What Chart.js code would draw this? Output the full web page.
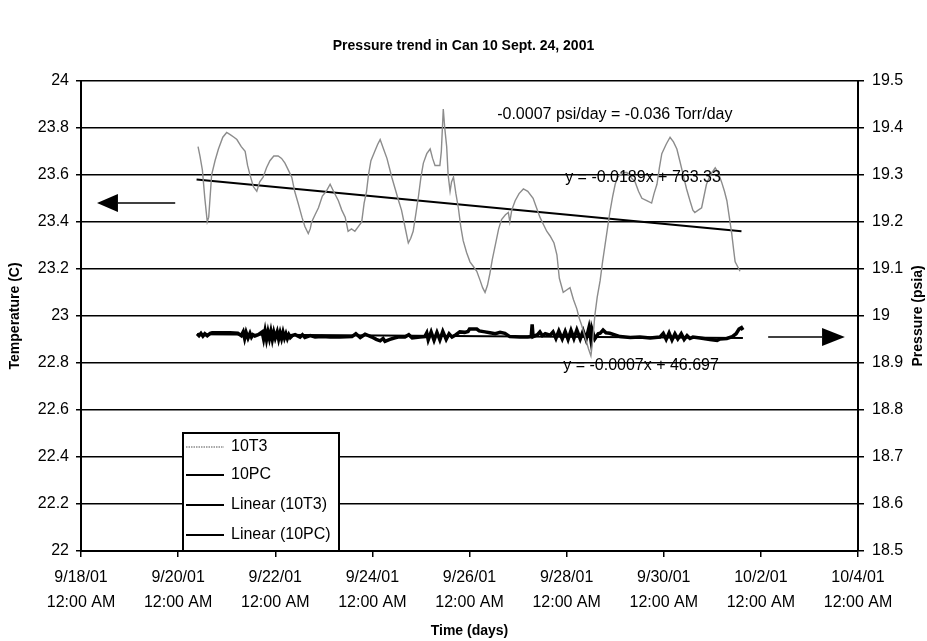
<!DOCTYPE html>
<html>
<head>
<meta charset="utf-8">
<title>Pressure trend in Can 10</title>
<script src="https://cdn.jsdelivr.net/npm/chart.js@4.4.1/dist/chart.umd.min.js"></script>
<style>
  html, body { margin: 0; padding: 0; background: #fff; }
  #wrap { width: 927px; height: 641px; }
</style>
</head>
<body>
<div id="wrap"><canvas id="chart" width="927" height="641"></canvas></div>
<script>
const FONT = '"Liberation Sans", Arial, Helvetica, sans-serif';

const chartTitle = "Pressure trend in Can 10 Sept. 24, 2001";

// x axis: days since 9/18/01 12:00 AM
const xDateLabels = ["9/18/01", "9/20/01", "9/22/01", "9/24/01", "9/26/01", "9/28/01", "9/30/01", "10/2/01", "10/4/01"];
const xTimeLabels = ["12:00 AM", "12:00 AM", "12:00 AM", "12:00 AM", "12:00 AM", "12:00 AM", "12:00 AM", "12:00 AM", "12:00 AM"];
const leftTickLabels = ["22", "22.2", "22.4", "22.6", "22.8", "23", "23.2", "23.4", "23.6", "23.8", "24"];
const rightTickLabels = ["18.5", "18.6", "18.7", "18.8", "18.9", "19", "19.1", "19.2", "19.3", "19.4", "19.5"];

// 10T3 temperature (C)
const tempDays = [2.41, 2.45, 2.50, 2.55, 2.60, 2.63, 2.69, 2.76, 2.83, 2.92, 3.00, 3.08, 3.15, 3.21, 3.30, 3.38, 3.43, 3.48, 3.55, 3.62,
  3.68, 3.75, 3.82, 3.89, 3.97, 4.06, 4.13, 4.20, 4.27, 4.34, 4.40, 4.47, 4.55, 4.61, 4.68, 4.72, 4.75, 4.82, 4.89, 4.97,
  5.05, 5.13, 5.20, 5.30, 5.37, 5.44, 5.50, 5.57, 5.64, 5.71, 5.78, 5.83, 5.88, 5.92, 5.97, 6.05, 6.11, 6.16, 6.23, 6.30,
  6.35, 6.40, 6.47, 6.54, 6.60, 6.64, 6.69, 6.74, 6.79, 6.84, 6.90, 6.95, 7.00, 7.05, 7.12, 7.19, 7.24, 7.29, 7.34, 7.39,
  7.42, 7.46, 7.49, 7.53, 7.56, 7.60, 7.63, 7.67, 7.72, 7.77, 7.82, 7.87, 7.94, 8.01, 8.08, 8.15, 8.22, 8.27, 8.32, 8.37,
  8.42, 8.47, 8.53, 8.60, 8.66, 8.74, 8.80, 8.83, 8.87, 8.94, 9.02, 9.11, 9.20, 9.31, 9.38, 9.45, 9.52, 9.59, 9.66, 9.74,
  9.80, 9.85, 9.93, 10.00, 10.07, 10.14, 10.21, 10.26, 10.31, 10.38, 10.45, 10.50, 10.54, 10.58, 10.63, 10.69, 10.74, 10.79, 10.84, 10.89,
  10.95, 11.00, 11.05, 11.10, 11.17, 11.24, 11.32, 11.41, 11.48, 11.55, 11.65, 11.75, 11.80, 11.86, 11.91, 11.96, 12.05, 12.13, 12.20, 12.27,
  12.33, 12.40, 12.47, 12.54, 12.60, 12.64, 12.71, 12.78, 12.83, 12.88, 12.96, 13.06, 13.12, 13.19, 13.25, 13.30, 13.35, 13.40, 13.44, 13.47,
  13.52, 13.57];
const tempValues = [23.72, 23.68, 23.62, 23.50, 23.40, 23.42, 23.60, 23.66, 23.71, 23.76, 23.78, 23.77, 23.76, 23.75, 23.72, 23.70, 23.64, 23.60, 23.55, 23.53,
  23.57, 23.59, 23.63, 23.66, 23.68, 23.68, 23.67, 23.65, 23.62, 23.59, 23.53, 23.48, 23.42, 23.38, 23.35, 23.37, 23.40, 23.43, 23.46, 23.51,
  23.53, 23.56, 23.53, 23.49, 23.45, 23.42, 23.36, 23.37, 23.36, 23.38, 23.40, 23.48, 23.53, 23.60, 23.66, 23.70, 23.73, 23.75, 23.71, 23.67,
  23.63, 23.59, 23.54, 23.49, 23.45, 23.41, 23.36, 23.31, 23.33, 23.36, 23.44, 23.51, 23.59, 23.65, 23.69, 23.71, 23.67, 23.64, 23.64, 23.64,
  23.70, 23.88, 23.80, 23.72, 23.60, 23.53, 23.57, 23.59, 23.52, 23.46, 23.38, 23.32, 23.27, 23.23, 23.21, 23.19, 23.15, 23.12, 23.10, 23.13,
  23.18, 23.24, 23.30, 23.37, 23.41, 23.43, 23.44, 23.40, 23.45, 23.49, 23.52, 23.54, 23.53, 23.50, 23.46, 23.42, 23.39, 23.36, 23.34, 23.31,
  23.26, 23.16, 23.10, 23.11, 23.12, 23.07, 23.03, 22.99, 22.96, 22.91, 22.86, 22.83, 22.90, 23.00, 23.08, 23.15, 23.23, 23.30, 23.37, 23.44,
  23.51, 23.56, 23.59, 23.60, 23.61, 23.61, 23.59, 23.57, 23.53, 23.50, 23.49, 23.48, 23.52, 23.56, 23.63, 23.69, 23.73, 23.76, 23.74, 23.71,
  23.66, 23.60, 23.54, 23.49, 23.45, 23.44, 23.45, 23.46, 23.51, 23.56, 23.60, 23.63, 23.61, 23.57, 23.53, 23.49, 23.42, 23.35, 23.28, 23.23,
  23.21, 23.19];

// 10PC pressure (psia)
const pressDays = [2.39, 2.43, 2.47, 2.51, 2.55, 2.60, 2.66, 2.70, 2.86, 3.07, 3.23, 3.30, 3.34, 3.37, 3.40, 3.44, 3.48, 3.51, 3.54, 3.58,
  3.65, 3.73, 3.76, 3.79, 3.82, 3.85, 3.88, 3.91, 3.94, 3.97, 4.00, 4.04, 4.07, 4.10, 4.13, 4.16, 4.19, 4.22, 4.25, 4.28,
  4.31, 4.35, 4.41, 4.51, 4.56, 4.61, 4.72, 4.82, 4.96, 5.13, 5.33, 5.58, 5.66, 5.75, 5.85, 5.99, 6.08, 6.16, 6.22, 6.26,
  6.36, 6.45, 6.53, 6.67, 6.75, 6.82, 6.98, 7.08, 7.12, 7.15, 7.21, 7.27, 7.33, 7.39, 7.45, 7.52, 7.58, 7.64, 7.72, 7.80,
  7.90, 7.97, 8.00, 8.15, 8.20, 8.32, 8.42, 8.53, 8.63, 8.73, 8.83, 9.04, 9.20, 9.27, 9.29, 9.31, 9.40, 9.45, 9.50, 9.56,
  9.66, 9.72, 9.78, 9.84, 9.91, 9.97, 10.03, 10.09, 10.15, 10.21, 10.28, 10.34, 10.40, 10.46, 10.50, 10.52, 10.58, 10.65, 10.69, 10.75,
  10.81, 10.89, 11.10, 11.31, 11.51, 11.72, 11.92, 11.99, 12.05, 12.11, 12.17, 12.23, 12.29, 12.36, 12.42, 12.48, 12.54, 12.60, 12.75, 12.95,
  13.10, 13.16, 13.30, 13.41, 13.49, 13.55, 13.60, 13.63];
const pressValues = [18.962, 18.958, 18.963, 18.957, 18.962, 18.958, 18.963, 18.964, 18.964, 18.964, 18.963, 18.958, 18.966, 18.952, 18.965, 18.953, 18.963, 18.955, 18.960, 18.957,
  18.960, 18.966, 18.951, 18.968, 18.950, 18.966, 18.952, 18.967, 18.950, 18.965, 18.953, 18.966, 18.951, 18.964, 18.952, 18.965, 18.953, 18.962, 18.952, 18.960,
  18.954, 18.958, 18.960, 18.955, 18.960, 18.954, 18.958, 18.955, 18.956, 18.955, 18.955, 18.956, 18.962, 18.954, 18.961, 18.955, 18.950, 18.947, 18.952, 18.946,
  18.950, 18.953, 18.955, 18.955, 18.960, 18.953, 18.955, 18.956, 18.964, 18.949, 18.966, 18.948, 18.965, 18.949, 18.967, 18.950, 18.962, 18.955, 18.960, 18.966,
  18.965, 18.967, 18.972, 18.972, 18.968, 18.966, 18.964, 18.962, 18.965, 18.963, 18.956, 18.955, 18.955, 18.956, 18.982, 18.956, 18.960, 18.966, 18.958, 18.962,
  18.959, 18.966, 18.952, 18.968, 18.951, 18.967, 18.950, 18.969, 18.952, 18.970, 18.951, 18.968, 18.950, 18.975, 18.949, 18.972, 18.951, 18.962, 18.963, 18.970,
  18.964, 18.963, 18.956, 18.954, 18.955, 18.953, 18.955, 18.963, 18.950, 18.964, 18.949, 18.962, 18.951, 18.962, 18.950, 18.958, 18.952, 18.955, 18.953, 18.950,
  18.948, 18.951, 18.952, 18.956, 18.962, 18.972, 18.975, 18.970];

// Excel linear trendlines (end points)
const trendTempDays = [2.38, 13.60];
const trendTempValues = [23.58, 23.36];
const trendPressDays = [2.39, 13.63];
const trendPressValues = [18.961, 18.953];

const toPoints = (xs, ys) => xs.map((d, i) => ({ x: d, y: ys[i] }));

// arrows, labels and the boxed legend sit inside the plot like in the Excel chart
const overlayPlugin = {
  id: "overlay",
  afterDatasetsDraw(chart) {
    const { ctx, scales } = chart;
    const { x, y, y1 } = scales;
    ctx.save();

    const arrow = (tail, base, tip, py, half) => {
      ctx.strokeStyle = "#000";
      ctx.fillStyle = "#000";
      ctx.lineWidth = 1.5;
      ctx.beginPath();
      ctx.moveTo(tail, py);
      ctx.lineTo(base, py);
      ctx.stroke();
      ctx.beginPath();
      ctx.moveTo(tip, py);
      ctx.lineTo(base, py - half);
      ctx.lineTo(base, py + half);
      ctx.closePath();
      ctx.fill();
    };
    arrow(x.getPixelForValue(1.94), x.getPixelForValue(0.76), x.getPixelForValue(0.33), y.getPixelForValue(23.48), 9);
    arrow(x.getPixelForValue(14.15), x.getPixelForValue(15.26), x.getPixelForValue(15.73), y1.getPixelForValue(18.955), 9);

    ctx.fillStyle = "#000";
    ctx.font = "16px " + FONT;
    ctx.textAlign = "left";
    ctx.textBaseline = "middle";
    ctx.fillText("-0.0007 psi/day = -0.036 Torr/day", x.getPixelForValue(8.57), y.getPixelForValue(23.855));
    ctx.fillText("y = -0.0189x + 763.33", x.getPixelForValue(9.97), y.getPixelForValue(23.587));
    ctx.fillText("y = -0.0007x + 46.697", x.getPixelForValue(9.93), y.getPixelForValue(22.787));

    // right axis title, reading bottom to top
    ctx.save();
    ctx.translate(918, (chart.chartArea.top + chart.chartArea.bottom) / 2);
    ctx.rotate(-Math.PI / 2);
    ctx.textAlign = "center";
    ctx.font = "bold 14px " + FONT;
    ctx.fillText("Pressure (psia)", 0, 0);
    ctx.restore();

    // legend box
    const bx = 183, by = 433, bw = 156, bh = chart.chartArea.bottom - 433;
    ctx.fillStyle = "#fff";
    ctx.fillRect(bx, by, bw, bh);
    ctx.strokeStyle = "#000";
    ctx.lineWidth = 2;
    ctx.strokeRect(bx, by, bw, bh);
    const rows = [447, 475, 505, 535];
    chart.data.datasets.forEach((ds, i) => {
      ctx.strokeStyle = ds.borderColor;
      ctx.lineWidth = i === 0 ? 1.5 : 2;
      ctx.setLineDash(i === 0 ? [1.5, 1] : []);
      ctx.beginPath();
      ctx.moveTo(186, rows[i]);
      ctx.lineTo(224, rows[i]);
      ctx.stroke();
      ctx.setLineDash([]);
      ctx.fillStyle = "#000";
      ctx.font = "16px " + FONT;
      ctx.fillText(ds.label, 231, rows[i]);
    });
    ctx.restore();
  },
};

Chart.defaults.font.family = FONT;
Chart.defaults.color = "#000";

new Chart(document.getElementById("chart"), {
  type: "line",
  data: {
    datasets: [
      {
        label: "10T3",
        data: toPoints(tempDays, tempValues),
        yAxisID: "y",
        borderColor: "#8c8c8c",
        borderWidth: 1.4,
        pointRadius: 0,
        tension: 0,
      },
      {
        label: "10PC",
        data: toPoints(pressDays, pressValues),
        yAxisID: "y1",
        borderColor: "#000",
        borderWidth: 3.5,
        pointRadius: 0,
        tension: 0,
      },
      {
        label: "Linear (10T3)",
        data: toPoints(trendTempDays, trendTempValues),
        yAxisID: "y",
        borderColor: "#000",
        borderWidth: 2,
        pointRadius: 0,
      },
      {
        label: "Linear (10PC)",
        data: toPoints(trendPressDays, trendPressValues),
        yAxisID: "y1",
        borderColor: "#000",
        borderWidth: 2,
        pointRadius: 0,
      },
    ],
  },
  options: {
    responsive: false,
    animation: false,
    parsing: false,
    layout: { padding: 0 },
    plugins: {
      legend: { display: false },
      tooltip: { enabled: false },
      title: {
        display: true,
        text: chartTitle,
        color: "#000",
        font: { size: 14, weight: "bold" },
        padding: { top: 38, bottom: 26 },
      },
    },
    scales: {
      x: {
        type: "linear",
        min: 0,
        max: 16,
        afterFit: (s) => { s.height = 90; },
        grid: { drawOnChartArea: false, drawTicks: true, tickLength: 6, color: "#000", lineWidth: 1.5 },
        border: { display: true, color: "#000", width: 2 },
        ticks: {
          stepSize: 2,
          autoSkip: false,
          maxRotation: 0,
          padding: 8,
          font: { size: 16, lineHeight: 1.5625 },
          callback: (v, i) => [xDateLabels[i], xTimeLabels[i]],
        },
        title: { display: true, text: "Time (days)", font: { size: 14, weight: "bold" }, padding: { top: 0, bottom: 1 } },
      },
      y: {
        position: "left",
        min: 22,
        max: 24,
        afterFit: (s) => { s.width = 81; },
        grid: { color: "#000", lineWidth: 1.5, drawTicks: true, tickLength: 5 },
        border: { display: true, color: "#000", width: 2 },
        ticks: {
          stepSize: 0.2,
          autoSkip: false,
          padding: 7,
          font: { size: 16 },
          callback: (v, i) => leftTickLabels[i],
        },
        title: { display: true, text: "Temperature (C)", font: { size: 14, weight: "bold" }, padding: { top: 7, bottom: 0 } },
      },
      y1: {
        position: "right",
        min: 18.5,
        max: 19.5,
        afterFit: (s) => { s.width = 69; },
        grid: { drawOnChartArea: false, color: "#000", lineWidth: 1.5, drawTicks: true, tickLength: 6 },
        border: { display: true, color: "#000", width: 2 },
        ticks: {
          stepSize: 0.1,
          autoSkip: false,
          padding: 8,
          font: { size: 16 },
          callback: (v, i) => rightTickLabels[i],
        },
      },
    },
  },
  plugins: [overlayPlugin],
});
</script>
</body>
</html>
